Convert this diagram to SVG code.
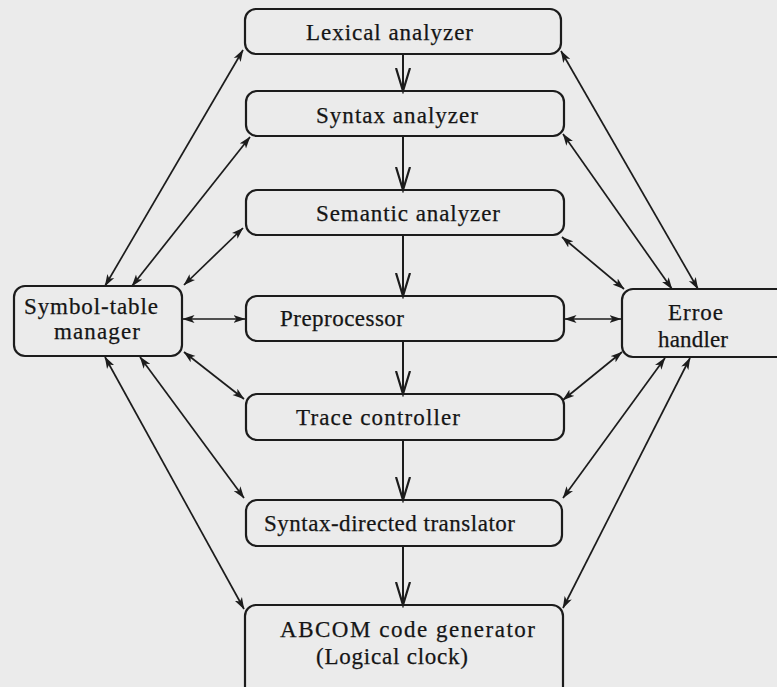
<svg xmlns="http://www.w3.org/2000/svg" width="777" height="687" viewBox="0 0 777 687">
<style>
.box{fill:none;stroke:#1c1c1c;stroke-width:2.2}
.t{font-family:"Liberation Serif","Times New Roman",serif;font-size:23px;fill:#151515;stroke:#151515;stroke-width:0.25}
.c{stroke:#1c1c1c;stroke-width:1.7;fill:none}
.v{stroke:#1c1c1c;stroke-width:2;fill:none}
</style>
<defs>
<marker id="ah" markerUnits="userSpaceOnUse" markerWidth="12" markerHeight="9" refX="11.5" refY="4" orient="auto-start-reverse" viewBox="0 0 12 8">
<path d="M0,0 L12,4 L0,8 L3,4 Z" fill="#1c1c1c"/>
</marker>
<marker id="vh" markerUnits="userSpaceOnUse" markerWidth="26" markerHeight="18" refX="23" refY="8" orient="auto" viewBox="0 0 26 16">
<path d="M0,1 L23,8 L0,15" fill="none" stroke="#1c1c1c" stroke-width="2.2"/>
</marker>
</defs>
<rect width="777" height="687" fill="#ebebeb"/>
<g id="connectors">
<line class="v" x1="403" y1="54" x2="403" y2="91" marker-end="url(#vh)"/>
<line class="v" x1="403" y1="136" x2="403" y2="190" marker-end="url(#vh)"/>
<line class="v" x1="403" y1="235" x2="403" y2="296" marker-end="url(#vh)"/>
<line class="v" x1="403" y1="341" x2="403" y2="394" marker-end="url(#vh)"/>
<line class="v" x1="403" y1="440" x2="403" y2="500" marker-end="url(#vh)"/>
<line class="v" x1="403" y1="546" x2="403" y2="605" marker-end="url(#vh)"/>
<line class="c" x1="243" y1="50" x2="105" y2="286" marker-start="url(#ah)" marker-end="url(#ah)"/>
<line class="c" x1="250" y1="137" x2="132" y2="286" marker-start="url(#ah)" marker-end="url(#ah)"/>
<line class="c" x1="243" y1="228" x2="184" y2="285" marker-start="url(#ah)" marker-end="url(#ah)"/>
<line class="c" x1="183" y1="319" x2="245" y2="319" marker-start="url(#ah)" marker-end="url(#ah)"/>
<line class="c" x1="184" y1="352" x2="244" y2="399" marker-start="url(#ah)" marker-end="url(#ah)"/>
<line class="c" x1="140" y1="357" x2="244" y2="498" marker-start="url(#ah)" marker-end="url(#ah)"/>
<line class="c" x1="105" y1="357" x2="244" y2="609" marker-start="url(#ah)" marker-end="url(#ah)"/>
<line class="c" x1="561" y1="51" x2="698" y2="289" marker-start="url(#ah)" marker-end="url(#ah)"/>
<line class="c" x1="563" y1="134" x2="672" y2="289" marker-start="url(#ah)" marker-end="url(#ah)"/>
<line class="c" x1="562" y1="237" x2="624" y2="289" marker-start="url(#ah)" marker-end="url(#ah)"/>
<line class="c" x1="565" y1="319" x2="621" y2="319" marker-start="url(#ah)" marker-end="url(#ah)"/>
<line class="c" x1="622" y1="352" x2="563" y2="400" marker-start="url(#ah)" marker-end="url(#ah)"/>
<line class="c" x1="665" y1="358" x2="563" y2="498" marker-start="url(#ah)" marker-end="url(#ah)"/>
<line class="c" x1="690" y1="358" x2="563" y2="608" marker-start="url(#ah)" marker-end="url(#ah)"/>
</g>
<g id="lexical">
<rect class="box" x="245" y="9" width="316" height="45" rx="11"/>
<text class="t" x="306" y="40" textLength="167" lengthAdjust="spacing">Lexical analyzer</text>
</g>
<g id="syntax">
<rect class="box" x="246" y="91" width="318" height="45" rx="11"/>
<text class="t" x="316" y="123" textLength="162" lengthAdjust="spacing">Syntax analyzer</text>
</g>
<g id="semantic">
<rect class="box" x="246" y="190" width="318" height="45" rx="11"/>
<text class="t" x="316" y="221" textLength="184" lengthAdjust="spacing">Semantic analyzer</text>
</g>
<g id="preprocessor">
<rect class="box" x="246" y="296" width="318" height="45" rx="11"/>
<text class="t" x="280" y="326" textLength="124" lengthAdjust="spacing">Preprocessor</text>
</g>
<g id="trace">
<rect class="box" x="246" y="394" width="318" height="46" rx="11"/>
<text class="t" x="296" y="425" textLength="164" lengthAdjust="spacing">Trace controller</text>
</g>
<g id="sdt">
<rect class="box" x="246" y="500" width="316" height="46" rx="11"/>
<text class="t" x="264" y="531" textLength="251" lengthAdjust="spacing">Syntax-directed translator</text>
</g>
<g id="abcom">
<rect class="box" x="245" y="605" width="318" height="110" rx="11"/>
<text class="t" x="280" y="637" textLength="255" lengthAdjust="spacing">ABCOM code generator</text>
<text class="t" x="316" y="664" textLength="152" lengthAdjust="spacing">(Logical clock)</text>
</g>
<g id="symbol">
<rect class="box" x="14" y="286" width="168" height="70" rx="11"/>
<text class="t" x="24" y="314" textLength="134" lengthAdjust="spacing">Symbol-table</text>
<text class="t" x="54" y="339" textLength="86" lengthAdjust="spacing">manager</text>
</g>
<g id="erroe">
<rect class="box" x="622" y="289" width="170" height="68" rx="11"/>
<text class="t" x="668" y="320" textLength="55" lengthAdjust="spacing">Erroe</text>
<text class="t" x="658" y="347" textLength="70" lengthAdjust="spacing">handler</text>
</g>
</svg>
